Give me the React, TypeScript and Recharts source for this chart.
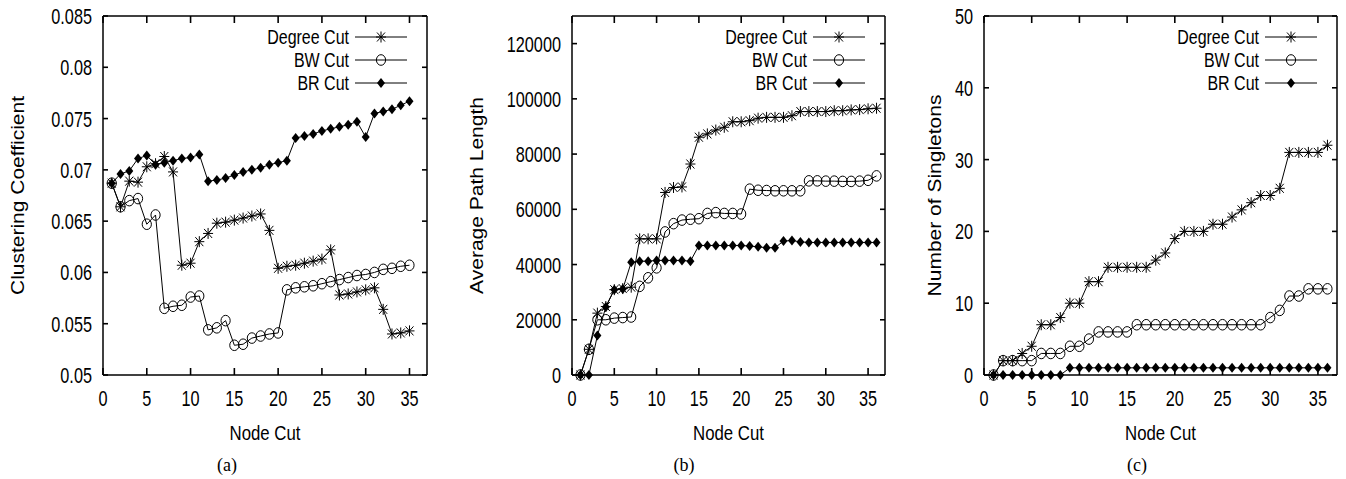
import React from 'react';
import { LineChart, Line, XAxis, YAxis, Legend } from 'recharts';

// node cut index, 1..35 for (a) and 1..36 for (b), (c)
const cutsA = [1, 2, 3, 4, 5, 6, 7, 8, 9, 10, 11, 12, 13, 14, 15, 16, 17, 18, 19, 20, 21, 22, 23, 24, 25, 26, 27, 28, 29, 30, 31, 32, 33, 34, 35];
const cutsBC = [1, 2, 3, 4, 5, 6, 7, 8, 9, 10, 11, 12, 13, 14, 15, 16, 17, 18, 19, 20, 21, 22, 23, 24, 25, 26, 27, 28, 29, 30, 31, 32, 33, 34, 35, 36];

const xTicks = [0, 5, 10, 15, 20, 25, 30, 35];

// (a) clustering coefficient
const clusterDegree = [0.0687, 0.0664, 0.0689, 0.0688, 0.0703, 0.0706, 0.0713, 0.0698, 0.0607, 0.0609, 0.063, 0.0638, 0.0648, 0.0649, 0.0651, 0.0653, 0.0655, 0.0657, 0.0641, 0.0604, 0.0606, 0.0607, 0.0609, 0.0611, 0.0613, 0.0622, 0.0578, 0.0579, 0.0581, 0.0583, 0.0585, 0.0564, 0.054, 0.0541, 0.0543];
const clusterBw = [0.0687, 0.0664, 0.067, 0.0672, 0.0647, 0.0656, 0.0565, 0.0567, 0.0568, 0.0576, 0.0577, 0.0544, 0.0546, 0.0553, 0.0529, 0.053, 0.0536, 0.0538, 0.054, 0.0541, 0.0583, 0.0585, 0.0586, 0.0587, 0.0589, 0.0591, 0.0593, 0.0595, 0.0597, 0.0598, 0.06, 0.0603, 0.0604, 0.0606, 0.0607];
const clusterBr = [0.0687, 0.0696, 0.0699, 0.0711, 0.0714, 0.0705, 0.0707, 0.0709, 0.0711, 0.0712, 0.0715, 0.0689, 0.069, 0.0692, 0.0695, 0.0698, 0.07, 0.0702, 0.0705, 0.0707, 0.0709, 0.0731, 0.0733, 0.0735, 0.0738, 0.074, 0.0742, 0.0744, 0.0747, 0.0732, 0.0755, 0.0757, 0.0759, 0.0763, 0.0767];
const clusterTicks = [0.05, 0.055, 0.06, 0.065, 0.07, 0.075, 0.08, 0.085];

// (b) average path length
const pathDegree = [0, 9300, 22400, 24800, 30900, 31300, 31800, 49300, 49300, 49300, 66100, 67900, 68100, 76400, 86100, 87300, 88700, 89700, 91700, 91700, 92100, 93000, 93300, 93300, 93300, 93900, 95400, 95400, 95400, 95400, 95700, 95700, 96000, 96100, 96400, 96600];
const pathBw = [0, 9300, 20000, 20000, 20600, 20800, 21000, 32100, 35200, 38800, 51800, 54800, 56100, 56400, 56600, 58500, 58800, 58500, 58500, 58300, 67300, 66900, 66800, 66700, 66700, 66700, 66700, 70300, 70300, 70200, 70200, 70100, 70100, 70200, 70500, 72100];
const pathBr = [0, 0, 14300, 24600, 30900, 31100, 40800, 41200, 41200, 41500, 41500, 41500, 41500, 41200, 46900, 46900, 46900, 46900, 46900, 46900, 46700, 46400, 46100, 46100, 48500, 48700, 48200, 48000, 48000, 48000, 48000, 48000, 48000, 48000, 48000, 48000];
const pathTicks = [0, 20000, 40000, 60000, 80000, 100000, 120000];

// (c) number of singletons
const singleDegree = [0, 2, 2, 3, 4, 7, 7, 8, 10, 10, 13, 13, 15, 15, 15, 15, 15, 16, 17, 19, 20, 20, 20, 21, 21, 22, 23, 24, 25, 25, 26, 31, 31, 31, 31, 32];
const singleBw = [0, 2, 2, 2, 2, 3, 3, 3, 4, 4, 5, 6, 6, 6, 6, 7, 7, 7, 7, 7, 7, 7, 7, 7, 7, 7, 7, 7, 7, 8, 9, 11, 11, 12, 12, 12];
const singleBr = [0, 0, 0, 0, 0, 0, 0, 0, 1, 1, 1, 1, 1, 1, 1, 1, 1, 1, 1, 1, 1, 1, 1, 1, 1, 1, 1, 1, 1, 1, 1, 1, 1, 1, 1, 1];
const singleTicks = [0, 10, 20, 30, 40, 50];

const seriesNames = ['Degree Cut', 'BW Cut', 'BR Cut'];

const FONT = '"Liberation Sans", Arial, Helvetica, sans-serif';
const SQUEEZE = 0.74;
const CHART_H = 479;
const PLOT_TOP = 16;
const PLOT_BOTTOM = 375;
const TICK_V = 7; // inward tick length on the x axes
const TICK_H = 5; // inward tick length on the y axes
const TOP_AXIS_H = 15;
const RIGHT_AXIS_W = 5;

type Row = { x: number; degree: number; bw: number; br: number };

const makeRows = (xs: number[], d: number[], b: number[], r: number[]): Row[] =>
  xs.map((x, i) => ({ x, degree: d[i], bw: b[i], br: r[i] }));

// gnuplot style point markers
const Star = ({ cx, cy }: { cx: number; cy: number }) => (
  <g stroke="#000" strokeWidth={1}>
    <line x1={cx - 5} x2={cx + 5} y1={cy} y2={cy} />
    <line x1={cx} x2={cx} y1={cy - 5.5} y2={cy + 5.5} />
    <line x1={cx - 4} x2={cx + 4} y1={cy - 4.5} y2={cy + 4.5} />
    <line x1={cx - 4} x2={cx + 4} y1={cy + 4.5} y2={cy - 4.5} />
  </g>
);
const Ring = ({ cx, cy }: { cx: number; cy: number }) => (
  <ellipse cx={cx} cy={cy} rx={4.6} ry={5.3} fill="none" stroke="#000" strokeWidth={1} />
);
const Diamond = ({ cx, cy }: { cx: number; cy: number }) => (
  <polygon points={`${cx},${cy - 5} ${cx + 4},${cy} ${cx},${cy + 5} ${cx - 4},${cy}`} fill="#000" />
);
const markers = [Star, Ring, Diamond];

// tick labels only; the inward tick lines come from Recharts (negative tickSize)
const BottomLabel = (p: any) => (
  <text transform={`translate(${p.x},${p.y + 31}) scale(${SQUEEZE},1)`} textAnchor="middle" fontSize={22} fill="#000">
    {p.payload.value}
  </text>
);
const LeftLabel = (p: any) => (
  <text transform={`translate(${p.x - 11},${p.y + 8}) scale(${SQUEEZE},1)`} textAnchor="end" fontSize={22} fill="#000">
    {p.payload.value}
  </text>
);
const NoLabel = () => <g />;

const tickStroke = { stroke: '#000', strokeWidth: 1.6 };
const frameStroke = { stroke: '#000', strokeWidth: 1.5 };

const LegendBox = () => (
  <svg width={250} height={72} style={{ display: 'block', fontFamily: FONT }}>
    {seriesNames.map((name, i) => {
      const M = markers[i];
      const y = 13 + i * 23;
      return (
        <g key={name}>
          <text transform={`translate(172,${y + 7}) scale(0.8,1)`} textAnchor="end" fontSize={20} fill="#000">
            {name}
          </text>
          <line x1={178} x2={230} y1={y} y2={y} stroke="#000" strokeWidth={1} />
          <M cx={204} cy={y} />
        </g>
      );
    })}
  </svg>
);

type PanelProps = {
  left: number;
  width: number;
  plotLeft: number;
  plotRight: number;
  rows: Row[];
  yDomain: [number, number];
  yTicks: number[];
  yTitle: string;
  yTitleX: number;
  caption: string;
  captionX: number;
};

const Panel = ({ left, width, plotLeft, plotRight, rows, yDomain, yTicks, yTitle, yTitleX, caption, captionX }: PanelProps) => {
  const midX = (plotLeft + plotRight) / 2;
  const midY = (PLOT_TOP + PLOT_BOTTOM) / 2;
  return (
    <div style={{ position: 'absolute', left, top: 0, width, height: CHART_H }}>
      <LineChart
        width={width}
        height={CHART_H}
        data={rows}
        margin={{ top: PLOT_TOP - TOP_AXIS_H, right: width - plotRight - RIGHT_AXIS_W, left: 0, bottom: 0 }}
        style={{ fontFamily: FONT }}
      >
        <XAxis
          xAxisId="bottom"
          dataKey="x"
          type="number"
          domain={[0, 37]}
          ticks={xTicks}
          interval={0}
          height={CHART_H - PLOT_BOTTOM}
          tickSize={-TICK_V}
          tickMargin={TICK_V}
          tickLine={tickStroke}
          axisLine={frameStroke}
          tick={(p: any) => <BottomLabel {...p} />}
        />
        <XAxis
          xAxisId="top"
          dataKey="x"
          orientation="top"
          type="number"
          domain={[0, 37]}
          ticks={xTicks}
          interval={0}
          height={TOP_AXIS_H}
          tickSize={-TICK_V}
          tickMargin={0}
          tickLine={tickStroke}
          axisLine={frameStroke}
          tick={(p: any) => <NoLabel {...p} />}
        />
        <YAxis
          yAxisId="left"
          type="number"
          domain={yDomain}
          ticks={yTicks}
          interval={0}
          width={plotLeft}
          tickSize={-TICK_H}
          tickMargin={TICK_H}
          tickLine={tickStroke}
          axisLine={frameStroke}
          tick={(p: any) => <LeftLabel {...p} />}
        />
        <YAxis
          yAxisId="right"
          orientation="right"
          type="number"
          domain={yDomain}
          ticks={yTicks}
          interval={0}
          width={RIGHT_AXIS_W}
          tickSize={-TICK_H}
          tickMargin={0}
          tickLine={tickStroke}
          axisLine={frameStroke}
          tick={(p: any) => <NoLabel {...p} />}
        />
        <Legend
          layout="horizontal"
          verticalAlign="middle"
          align="center"
          wrapperStyle={{ top: 24, left: plotRight - 250, width: 250, height: 72 }}
          content={() => <LegendBox />}
        />
        {/* invisible series so the mirrored top/right axes get their ticks */}
        <Line
          xAxisId="top"
          yAxisId="right"
          dataKey="degree"
          stroke="none"
          dot={false}
          activeDot={false}
          legendType="none"
          isAnimationActive={false}
        />
        {(['degree', 'bw', 'br'] as const).map((key, i) => {
          const M = markers[i];
          return (
            <Line
              key={key}
              xAxisId="bottom"
              yAxisId="left"
              type="linear"
              dataKey={key}
              name={seriesNames[i]}
              stroke="#000"
              strokeWidth={1}
              isAnimationActive={false}
              activeDot={false}
              dot={(p: any) => (
                <g key={`${key}-${p.index}`}>
                  <M cx={p.cx} cy={p.cy} />
                </g>
              )}
            />
          );
        })}
      </LineChart>
      <svg
        width={width}
        height={CHART_H}
        style={{ position: 'absolute', left: 0, top: 0, pointerEvents: 'none', fontFamily: FONT }}
      >
        <text
          transform={`translate(${yTitleX},${midY}) rotate(-90) scale(1,0.83)`}
          y={7.5}
          textAnchor="middle"
          fontSize={21}
          fill="#000"
        >
          {yTitle}
        </text>
        <text transform={`translate(${midX},440) scale(0.8,1)`} textAnchor="middle" fontSize={21} fill="#000">
          Node Cut
        </text>
        <text
          x={captionX}
          y={471}
          textAnchor="middle"
          fontSize={18}
          fill="#000"
          style={{ fontFamily: '"Liberation Serif", "Times New Roman", serif' }}
        >
          {caption}
        </text>
      </svg>
    </div>
  );
};

const App = () => (
  <div style={{ position: 'absolute', left: 0, top: 0, width: 1346, height: 479, background: '#fff' }}>
    <Panel
      left={0}
      width={440}
      plotLeft={103}
      plotRight={427}
      rows={makeRows(cutsA, clusterDegree, clusterBw, clusterBr)}
      yDomain={[0.05, 0.085]}
      yTicks={clusterTicks}
      yTitle="Clustering Coefficient"
      yTitleX={18}
      caption="(a)"
      captionX={227}
    />
    <Panel
      left={460}
      width={440}
      plotLeft={112}
      plotRight={425}
      rows={makeRows(cutsBC, pathDegree, pathBw, pathBr)}
      yDomain={[0, 130000]}
      yTicks={pathTicks}
      yTitle="Average Path Length"
      yTitleX={17}
      caption="(b)"
      captionX={224}
    />
    <Panel
      left={910}
      width={436}
      plotLeft={74}
      plotRight={427}
      rows={makeRows(cutsBC, singleDegree, singleBw, singleBr)}
      yDomain={[0, 50]}
      yTicks={singleTicks}
      yTitle="Number of Singletons"
      yTitleX={25}
      caption="(c)"
      captionX={227}
    />
  </div>
);

export default App;
